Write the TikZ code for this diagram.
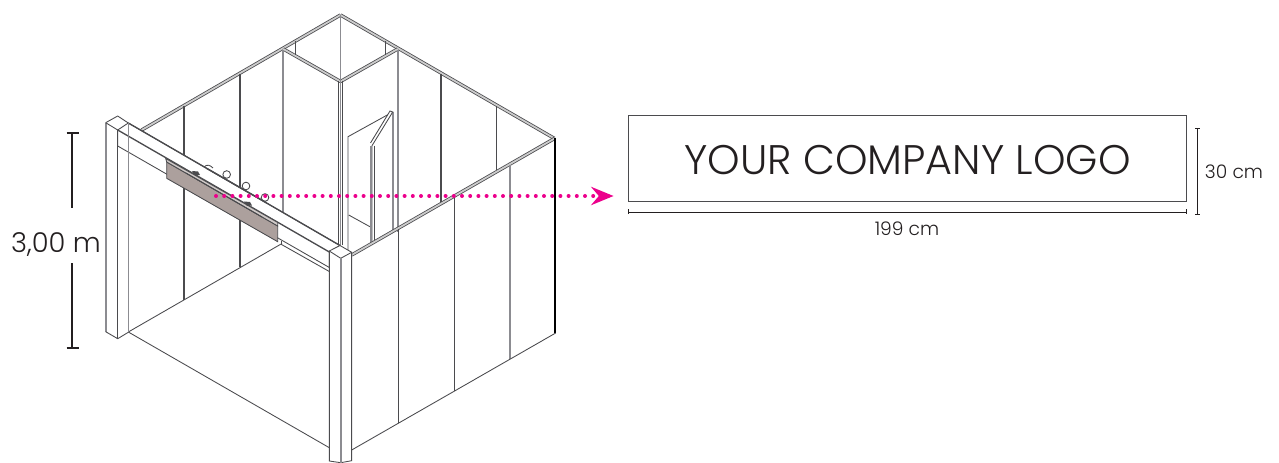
\documentclass[tikz,border=0pt]{standalone}
\usepackage{fontspec}
\setmainfont{Poppins Light}
\usetikzlibrary{arrows.meta}
\definecolor{inkdark}{RGB}{35,31,32}
\definecolor{railgrey}{RGB}{75,75,78}
\definecolor{panelgrey}{RGB}{140,140,145}
\definecolor{signbrown}{RGB}{172,160,157}
\definecolor{dotpink}{RGB}{236,0,140}
\tikzset{
  every picture/.style={line width=0.75pt},
  rail/.style={draw=railgrey,line width=0.6pt,double=white!80!black,double distance=1.35pt},
  panel/.style={draw=railgrey,line width=1pt},
  panelpale/.style={draw=panelgrey,line width=1.2pt},
  edge/.style={draw=railgrey,line width=0.65pt},
  dimline/.style={draw=inkdark,line width=0.6pt},
  dimbold/.style={draw=inkdark,line width=1.5pt},
  label/.style={text=inkdark,inner sep=0pt},
  dotline/.style={draw=dotpink,line width=3pt,line cap=round,dash pattern=on 0pt off 6.15pt,
    -{Stealth[length=17pt,width=14pt,inset=6pt,line width=0pt]}},
}

\begin{document}
\begin{tikzpicture}[x=0.75pt,y=0.75pt,yscale=-1,xscale=1]
\useasboundingbox (0,0) rectangle (1279,463);

%Top rails
\draw [rail] (141.7,130) -- (340.5,15) ;
\draw [rail] (340.5,15) -- (554.5,138.5) ;
\draw [rail] (283.3,49) -- (340.5,81.5) ;
\draw [rail] (340.5,81.5) -- (397.7,49) ;
\draw [panelpale] (340.5,15) -- (340.5,81) ;
\draw [edge] (295,41.5) -- (295,55) ;
\draw [edge] (385,41.5) -- (385,55) ;

%Back panels, left
\draw [panel] (184,106) -- (184,300) ;
\draw [panel] (240,74) -- (240,267.5) ;
\draw [panelpale] (282.7,50) -- (282.7,214) ;
%Back panels, right
\draw [panelpale] (398,50) -- (398,232) ;
\draw [panel] (441,74) -- (441,204) ;
\draw [panel] (496.7,106) -- (496.7,172) ;

%Corner post
\draw [panel] (338.5,81) -- (338.5,245) ;
\draw [panel] (342.3,81) -- (342.3,245) ;
\draw [panelpale] (340.4,81) -- (340.4,245) ;

%Door
\draw [edge] (348,250) -- (348,136.7) -- (392.7,112) ;
\draw [panelpale] (392.7,112) -- (392.7,232) ;
\draw [edge] (348.7,215) -- (371,227.3) ;
\draw [edge,fill=white] (372,243) -- (372,145.7) -- (392.7,112) -- (390,111) -- (370.5,143) ;
\draw [panelpale] (371.2,145.7) -- (371.2,243) ;
\draw [edge] (374,145.7) -- (374,241) ;

%Right wall
\draw [rail] (351.7,255) -- (554.5,138.5) ;
\draw [panel] (398.7,229) -- (398.7,423.5) ;
\draw [panel] (454.7,197) -- (454.7,391.5) ;
\draw [panelpale] (510,165) -- (510,359) ;
\draw [draw=black,line width=1.6pt] (555,138) -- (555,333) ;
\draw [edge] (351.7,450) -- (555.7,333) ;

%Floor
\draw [edge] (128.3,332) -- (282,243.5) ;
\draw [edge] (128.3,332) -- (329.3,447.7) ;

%Hooks
\draw [edge,fill=white] (226.7,174.5) circle (3.8) ;
\draw [edge,fill=white] (246,186) circle (3.8) ;
\draw [edge,fill=white] (265,197.5) circle (3.8) ;
\draw [edge] (204,167) .. controls (207,164) and (210,165) .. (213,168) ;

%Beam
\draw [edge,fill=white] (128.3,123) -- (340,245.5) -- (329.3,252) -- (329.3,267.5) -- (117.7,146) -- (117.7,130) -- cycle ;
\draw [draw=railgrey,line width=1pt] (128.3,123) -- (340,245.5) ;
\draw [draw=railgrey,line width=1pt] (117.7,130) -- (329.3,252) ;
\draw [edge] (281.7,244.6) -- (329.3,271.5) ;
\draw [edge] (281.7,241.5) -- (281.7,244.6) ;
\draw [draw=railgrey,line width=1pt] (206.7,168.4) -- (266.7,202.9) ;

%Sign
\draw [edge,fill=signbrown] (166.7,162) -- (277.7,226) -- (277.7,241.7) -- (166.7,178.3) -- cycle ;
\draw [edge,fill=signbrown!55!white] (165.7,158.5) -- (277.7,222.5) -- (277.7,226) -- (166.7,162) -- cycle ;
\draw [edge] (186,173) -- (262,217) ;
\fill [railgrey] (192,171) -- (198,171.5) -- (200,175) -- (195,175.5) -- cycle ;
\fill [railgrey] (244,201.5) -- (250,202) -- (252,205.5) -- (247,206) -- cycle ;
\draw [panel] (184,188.5) -- (184,300) ;
\draw [panel] (240,220) -- (240,267.5) ;

%Post, front left
\draw [edge] (105.7,122.7) -- (117.7,116) -- (128.3,123) ;
\draw [panelpale] (105.7,122.7) -- (105.7,331.7) ;
\draw [edge] (105.7,122.7) -- (117.7,130) ;
\draw [edge] (117.7,130) -- (117.7,338.7) ;
\draw [panelpale] (128.3,123) -- (128.3,332) ;
\draw [edge] (105.7,331.7) -- (117.7,338.7) -- (128.3,332.3) ;

%Post, front right
\draw [edge,fill=white] (329.3,251) -- (340,245.5) -- (351.7,252.3) -- (351.7,460.7) -- (340.7,462.7) -- (329.3,461) -- cycle ;
\draw [edge] (329.3,251) -- (340.7,258.3) -- (351.7,252.3) ;
\draw [panelpale] (340.7,258.3) -- (340.7,462.7) ;
\draw [draw=railgrey,line width=0.8pt] (329.3,251) -- (329.3,461) ;
\draw [draw=railgrey,line width=0.8pt] (351.7,252.3) -- (351.7,460.7) ;

%Height dimension
\coordinate (htopa) at (72.3,132.7);
\coordinate (htopb) at (72.3,208);
\coordinate (hlowa) at (72.3,263.3);
\coordinate (hlowb) at (72.3,348);
\draw [dimbold] (htopa) -- (htopb) ;
\draw [dimbold] (hlowa) -- (hlowb) ;
\draw [dimbold] (66.7,132.7) -- (78.7,132.7) ;
\draw [dimbold] (66.7,348) -- (78.7,348) ;
\node [label,font=\fontsize{20.5}{24}\selectfont] (heightlabel) at (56,245) {3,00 m};

%Logo box
\node [draw=railgrey,line width=0.6pt,minimum width=418.5pt,minimum height=64.5pt,inner sep=0pt] (logobox) at (907.5,158) {};
\node [label,font=\fontsize{31}{36}\selectfont] (logotext) at (907.5,160.5) {YOUR COMPANY LOGO};

%Box dimensions
\coordinate (wleft) at (628.5,212);
\coordinate (wright) at (1186.5,212);
\coordinate (hup) at (1197.5,128.5);
\coordinate (hdown) at (1197.5,214);
\draw [dimline] (wleft) -- (wright) ;
\draw [dimline] (628.5,209.5) -- (628.5,214.5) ;
\draw [dimline] (1186.5,209.5) -- (1186.5,214.5) ;
\draw [dimline] (hup) -- (hdown) ;
\draw [dimline] (1195,128.5) -- (1200,128.5) ;
\draw [dimline] (1195,214) -- (1200,214) ;
\node [label,font=\fontsize{14}{16}\selectfont] (widthlabel) at (907,229) {199 cm};
\node [label,font=\fontsize{14}{16}\selectfont] (depthlabel) at (1234,172) {30 cm};

%Pointer
\coordinate (dotstart) at (216,196);
\coordinate (dotend) at (613.5,196);
\draw [dotline] (dotstart) -- (dotend) ;

\end{tikzpicture}
\end{document}
